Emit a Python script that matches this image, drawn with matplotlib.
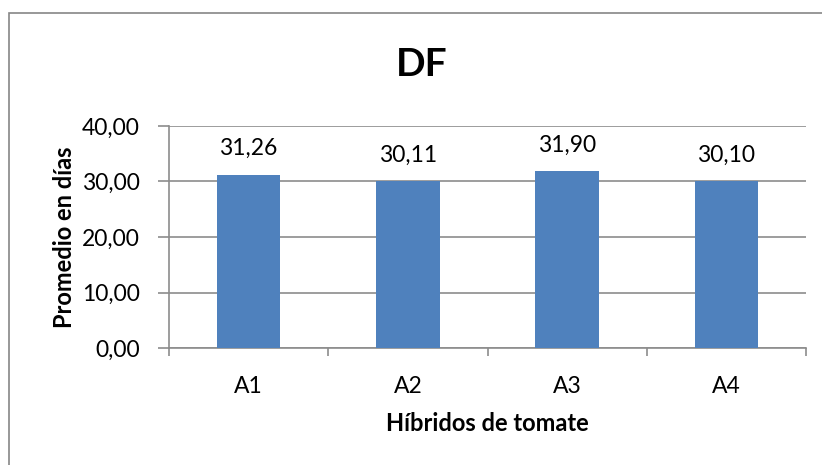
import matplotlib.pyplot as plt
from matplotlib.patches import Rectangle
from matplotlib.ticker import FixedLocator, FuncFormatter

plt.rcParams['font.family'] = ['Lato', 'DejaVu Sans']

hibridos = ['A1', 'A2', 'A3', 'A4']
promedio_dias = [31.26, 30.11, 31.90, 30.10]
y_ticks = [0, 10, 20, 30, 40]


def coma(v, pos=None):
    return f'{v:.2f}'.replace('.', ',')


fig = plt.figure(figsize=(8.22, 4.65), dpi=100)
ax = fig.add_axes([169 / 822, 117 / 465, 637 / 822, 222 / 465])

# chart border like a spreadsheet chart area
fig.patches.append(Rectangle((9 / 822, -0.1), 1.2, (465 - 13) / 465 + 0.1,
                             transform=fig.transFigure, fill=False,
                             edgecolor='#868686', linewidth=1.2))

x = range(len(hibridos))
ax.bar(x, promedio_dias, width=0.4, color='#4F81BD', zorder=3)
for xi, v in zip(x, promedio_dias):
    ax.text(xi, v + 2.8, coma(v), ha='center', va='bottom', fontsize=16.5)

ax.set_xlim(-0.5, len(hibridos) - 0.5)
ax.set_ylim(0, 40)
ax.set_yticks(y_ticks)
ax.yaxis.set_major_formatter(FuncFormatter(coma))
ax.grid(axis='y', color='#8C8C8C', linewidth=1.2, zorder=0)

ax.set_xticks(list(x))
ax.set_xticklabels(hibridos)
ax.xaxis.set_minor_locator(FixedLocator([-0.5, 0.5, 1.5, 2.5, 3.5]))
ax.tick_params(axis='x', which='major', length=0, pad=20, labelsize=16.5)
ax.tick_params(axis='x', which='minor', length=6, width=1.2, color='#8C8C8C')
ax.tick_params(axis='y', length=8, width=1.2, color='#8C8C8C', labelsize=16.5, pad=13)

for side in ['top', 'right']:
    ax.spines[side].set_visible(False)
for side in ['left', 'bottom']:
    ax.spines[side].set_color('#8C8C8C')
    ax.spines[side].set_linewidth(1.2)

ax.set_xlabel('Híbridos de tomate', fontsize=17, fontweight='bold', labelpad=11)
ax.set_ylabel('Promedio en días', fontsize=17, fontweight='bold', labelpad=4)
fig.text(422 / 822, 1 - 64 / 465, 'DF', ha='center', va='center',
         fontsize=28, fontweight='bold')

fig.savefig('out.png', dpi=100)
